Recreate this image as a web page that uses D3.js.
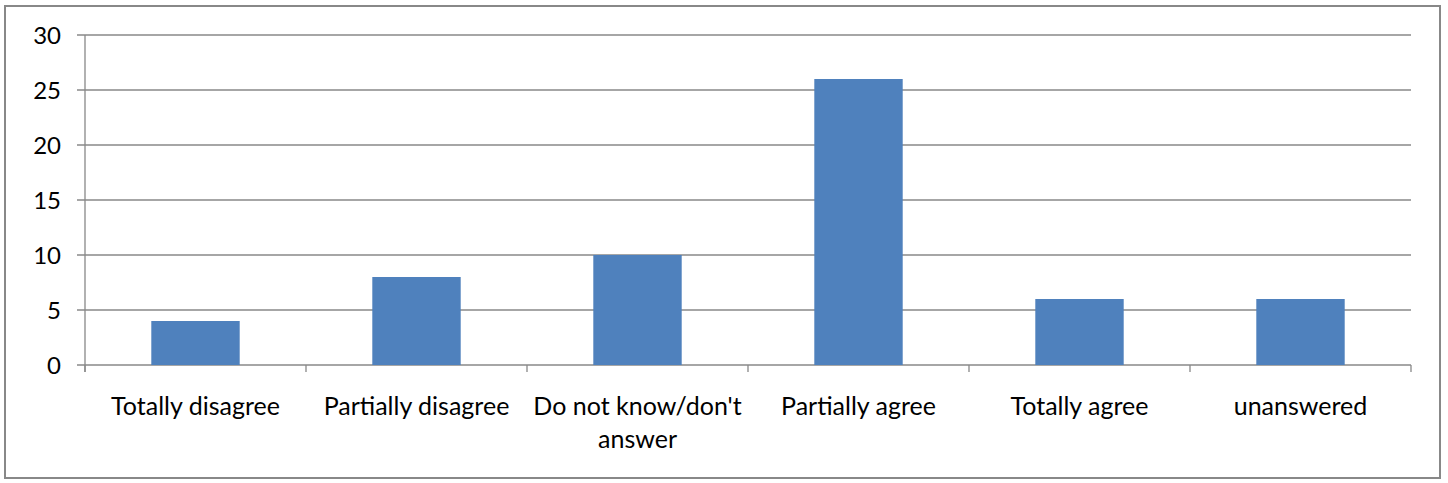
<!DOCTYPE html>
<html><head><meta charset="utf-8">
<script src="https://cdn.jsdelivr.net/npm/d3@7"></script>
<style>body{margin:0;background:#fff;} text{font-family:Lato,"Open Sans",sans-serif;fill:#000;}</style>
</head><body>
<svg id="c" width="1448" height="483"></svg>
<script>
const categories = ["Totally disagree","Partially disagree","Do not know/don't answer","Partially agree","Totally agree","unanswered"];
const labelLines = [["Totally disagree"],["Partially disagree"],["Do not know/don't","answer"],["Partially agree"],["Totally agree"],["unanswered"]];
const values = [4,8,10,26,6,6];
const yTicks = [0,5,10,15,20,25,30];

const svg = d3.select("#c");
svg.append("rect").attr("x",5).attr("y",6).attr("width",1435).attr("height",472)
  .attr("fill","#fff").attr("stroke","#888").attr("stroke-width",2);

const L=85,R=1411,T=35,B=365;
const x = d3.scaleBand().domain(categories).range([L,R]).paddingInner(0.6).paddingOuter(0.3);
const y = d3.scaleLinear().domain([0,30]).range([B,T]);

// gridlines
svg.append("g").selectAll("line").data(yTicks).join("line")
  .attr("x1",77).attr("x2",R).attr("y1",d=>y(d)).attr("y2",d=>y(d))
  .attr("stroke","#888").attr("stroke-width",1.3);
// y axis line
svg.append("line").attr("x1",L).attr("x2",L).attr("y1",T).attr("y2",B+7).attr("stroke","#888").attr("stroke-width",1.3);
// y labels
svg.append("g").selectAll("text").data(yTicks).join("text")
  .attr("x",61).attr("y",d=>y(d)).attr("dy","0.36em").attr("text-anchor","end")
  .attr("font-size",24).text(d=>d);

// bars
svg.append("g").selectAll("rect").data(values).join("rect")
  .attr("x",(d,i)=>x(categories[i])).attr("width",x.bandwidth())
  .attr("y",d=>y(d)).attr("height",d=>y(0)-y(d)).attr("fill","#4F81BD");

// x tick marks at category boundaries
const bounds = d3.range(categories.length+1).map(i=>L+i*(R-L)/categories.length);
svg.append("g").selectAll("line").data(bounds).join("line")
  .attr("x1",d=>d).attr("x2",d=>d).attr("y1",B).attr("y2",B+7)
  .attr("stroke","#888").attr("stroke-width",1.3);

// x labels
const xl = svg.append("g").selectAll("text").data(categories).join("text")
  .attr("x",d=>x(d)+x.bandwidth()/2).attr("y",415).attr("text-anchor","middle").attr("font-size",25);
xl.each(function(d,i){
  const t=d3.select(this);
  labelLines[i].forEach((ln,j)=>t.append("tspan").attr("x",x(d)+x.bandwidth()/2).attr("dy",j?33:0).text(ln));
});
</script>
</body></html>
